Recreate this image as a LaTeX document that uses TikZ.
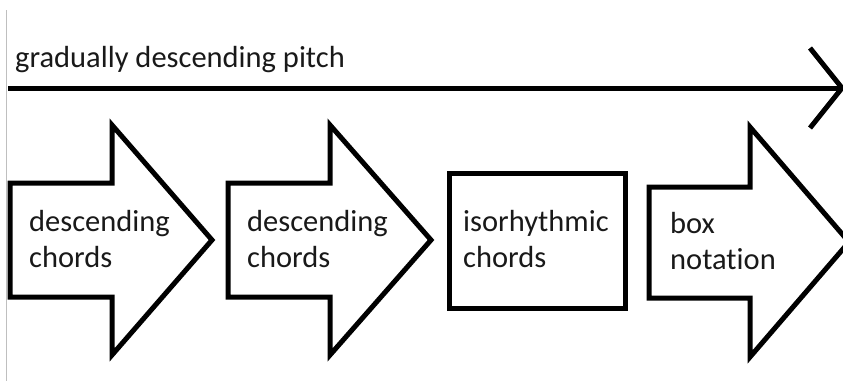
\documentclass[tikz,border=0pt]{standalone}
\usepackage{fontspec}
\setmainfont{Carlito}[Ligatures=NoCommon]
\begin{document}
\begin{tikzpicture}[x=1pt,y=-1pt,
  outline/.style={draw=black,line width=5pt,fill=white,line join=miter},
  label/.style={anchor=base west,inner sep=0pt,align=left,text=black!90,
    font=\fontsize{30.5}{35.5}\selectfont}]
\useasboundingbox[fill=white] (0,0) rectangle (843,381);
% thin margin rule on the left
\draw[black!25,line width=1pt] (6,10) -- (6,381);
% pitch axis with an open chevron head
\coordinate (axisstart) at (8,88);
\coordinate (axisend) at (842,88);
\draw[line width=5pt] (axisstart) -- (axisend);
\draw[line width=5pt,line cap=butt] (810,48) -- (axisend) -- (810,128);
\node[label] (title) at (15,67) {gradually descending pitch};
% block arrows; each label is placed by the baseline of its last line
\draw[outline] (10,183) -- (112,183) -- (112,125) -- (212,240) -- (112,355) -- (112,297) -- (10,297) -- cycle;
\node[label] (a1) at (29,267) {descending\\chords};
\draw[outline] (228,183) -- (330,183) -- (330,125) -- (431,240) -- (330,355) -- (330,297) -- (228,297) -- cycle;
\node[label] (a2) at (247,267) {descending\\chords};
\draw[outline] (449,173) rectangle (625,308);
\node[label] (a3) at (463,267) {isorhythmic\\chords};
\draw[outline] (649,187) -- (750,187) -- (750,127) -- (849,242) -- (750,357) -- (750,298) -- (649,298) -- cycle;
\node[label] (a4) at (670,269) {box\\notation};
\end{tikzpicture}
\end{document}
